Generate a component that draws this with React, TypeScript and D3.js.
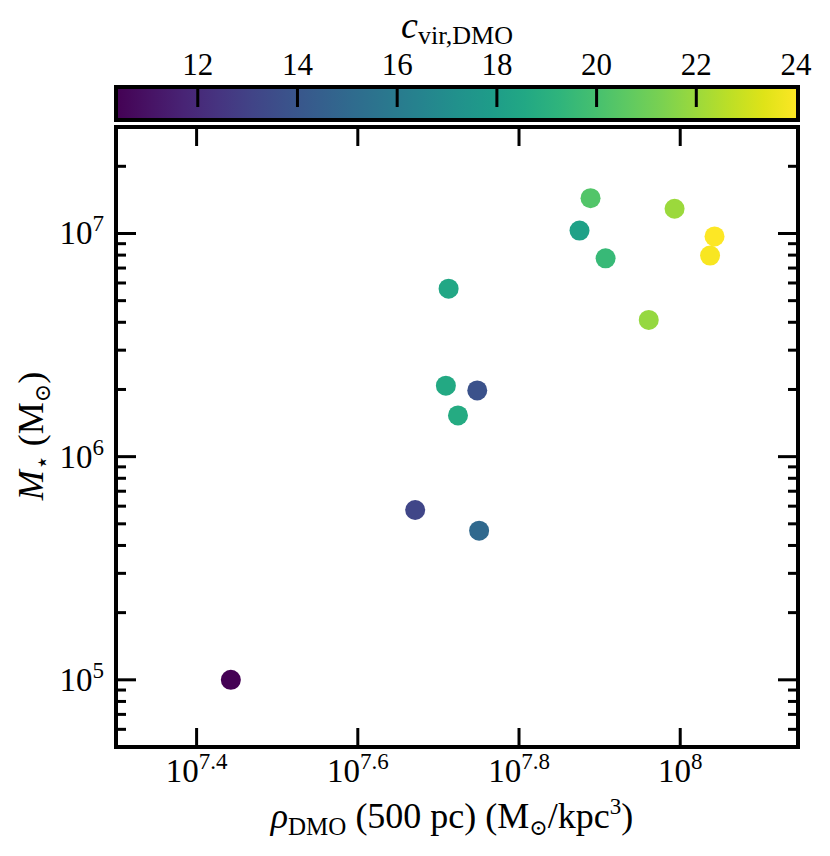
import React from 'react';
import * as d3 from 'd3';

// halo data: central DMO density (M_sun/kpc^3), stellar mass (M_sun), concentration
const rhoDMO = [2.77e7, 4.69e7, 5.63e7, 5.60e7, 5.12e7, 5.30e7, 5.16e7, 7.50e7, 7.74e7, 8.08e7, 9.14e7, 9.84e7, 1.089e8, 1.103e8];
const mStar = [1.0e5, 5.77e5, 4.66e5, 1.98e6, 2.08e6, 1.53e6, 5.66e6, 1.03e7, 1.44e7, 7.74e6, 4.10e6, 1.29e7, 7.96e6, 9.70e6];
const cVir = [10.36, 13.2, 15.0, 13.8, 18.6, 18.7, 18.5, 18.2, 20.3, 19.6, 21.9, 22.0, 23.9, 24.04];

const xTickExps = [7.4, 7.6, 7.8, 8];
const yTickExps = [5, 6, 7];
const cbarTicks = [12, 14, 16, 18, 20, 22, 24];

const W = 830;
const H = 856;
const left = 116, right = 798, top = 127, bottom = 747;
const cbTop = 87, cbBottom = 120;
const FONT = '"Liberation Serif", "DejaVu Serif", serif';

const App: React.FC = () => {
  const x = d3.scaleLog().domain([Math.pow(10, 7.3), 1.4e8]).range([left, right]);
  const y = d3.scaleLog().domain([5e4, 3e7]).range([bottom, top]);
  const cb = d3.scaleLinear().domain([10.36, 24.04]).range([left, right]);
  const color = d3.scaleSequential(d3.interpolateViridis).domain([10.36, 24.04]);

  const stops = d3.range(0, 1.0001, 0.05);

  // minor ticks on the y axis (2..9 x 10^k)
  const yMinor: number[] = [];
  for (let k = 4; k <= 7; k++) {
    for (let m = 2; m <= 9; m++) {
      const v = m * Math.pow(10, k);
      if (v > 5e4 && v < 3e7) yMinor.push(v);
    }
  }

  const points = rhoDMO.map((r, i) => ({ r, m: mStar[i], c: cVir[i] }));

  return (
    <svg width={W} height={H} style={{ position: 'absolute', left: 0, top: 0, background: 'white' }} fontFamily={FONT}>
      <defs>
        <linearGradient id="viridis" x1="0" x2="1" y1="0" y2="0">
          {stops.map(t => (
            <stop key={t} offset={`${t * 100}%`} stopColor={d3.interpolateViridis(t)} />
          ))}
        </linearGradient>
      </defs>

      {/* colorbar */}
      <text x={(left + right) / 2} y={38} textAnchor="middle" fontSize={38}>
        <tspan fontStyle="italic">c</tspan>
        <tspan fontSize={26} dy={6}>vir,DMO</tspan>
      </text>
      <rect x={left} y={cbTop} width={right - left} height={cbBottom - cbTop} fill="url(#viridis)" stroke="black" strokeWidth={4} />
      {cbarTicks.map(t => (
        <g key={t}>
          {t < 24 && <line x1={cb(t)} x2={cb(t)} y1={cbTop} y2={cbTop + 20} stroke="black" strokeWidth={3} />}
          <text x={cb(t)} y={75} textAnchor="middle" fontSize={31}>{t}</text>
        </g>
      ))}

      {/* points */}
      {points.map((p, i) => (
        <circle key={i} cx={x(p.r)} cy={y(p.m)} r={10} fill={color(p.c)} />
      ))}

      {/* x ticks, bottom and top */}
      {xTickExps.map(e => {
        const px = x(Math.pow(10, e));
        return (
          <g key={e}>
            <line x1={px} x2={px} y1={bottom} y2={bottom - 19} stroke="black" strokeWidth={3} />
            <line x1={px} x2={px} y1={top} y2={top + 19} stroke="black" strokeWidth={3} />
            <text x={px} y={782} textAnchor="middle" fontSize={33}>
              10<tspan fontSize={23} dy={-13}>{e === 8 ? '8' : e.toFixed(1)}</tspan>
            </text>
          </g>
        );
      })}

      {/* y ticks, left and right */}
      {yTickExps.map(e => {
        const py = y(Math.pow(10, e));
        return (
          <g key={e}>
            <line x1={left} x2={left + 20} y1={py} y2={py} stroke="black" strokeWidth={3} />
            <line x1={right} x2={right - 20} y1={py} y2={py} stroke="black" strokeWidth={3} />
            <text x={104} y={py + 11} textAnchor="end" fontSize={33}>
              10<tspan fontSize={23} dy={-13}>{e}</tspan>
            </text>
          </g>
        );
      })}
      {yMinor.map(v => (
        <g key={v}>
          <line x1={left} x2={left + 10} y1={y(v)} y2={y(v)} stroke="black" strokeWidth={3} />
          <line x1={right} x2={right - 10} y1={y(v)} y2={y(v)} stroke="black" strokeWidth={3} />
        </g>
      ))}

      {/* frame */}
      <rect x={left} y={top} width={right - left} height={bottom - top} fill="none" stroke="black" strokeWidth={4} />

      {/* axis labels */}
      <text x={(left + right) / 2 - 5} y={828} textAnchor="middle" fontSize={36}>
        <tspan fontStyle="italic">ρ</tspan>
        <tspan fontSize={25} dy={7}>DMO</tspan>
        <tspan dy={-7}> (500 pc) (M</tspan>
        <tspan fontSize={22} dy={7}>⊙</tspan>
        <tspan dy={-7}>/kpc</tspan>
        <tspan fontSize={23} dy={-14}>3</tspan>
        <tspan dy={14}>)</tspan>
      </text>
      <text transform={`translate(43, 436) rotate(-90)`} textAnchor="middle" fontSize={36}>
        <tspan fontStyle="italic">M</tspan>
        <tspan fontSize={24} dy={7}>⋆</tspan>
        <tspan dy={-7}> (M</tspan>
        <tspan fontSize={22} dy={7}>⊙</tspan>
        <tspan dy={-7}>)</tspan>
      </text>
    </svg>
  );
};

export default App;
